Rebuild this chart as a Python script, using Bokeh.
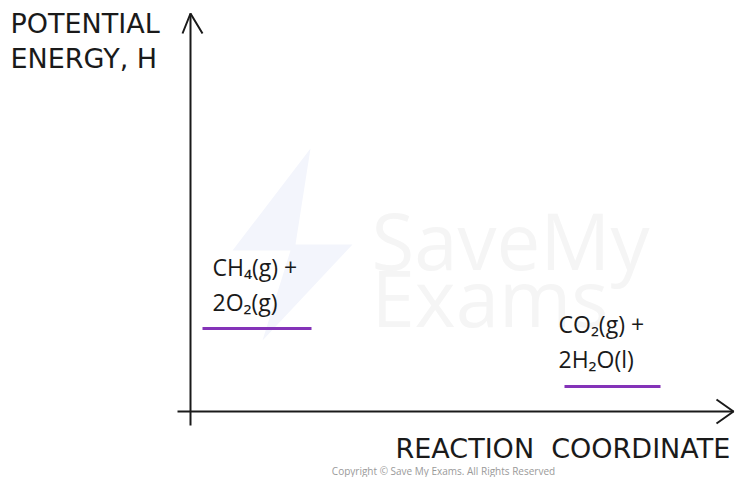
from bokeh.plotting import figure
from bokeh.models import Range1d
from bokeh.core.properties import value
from bokeh.embed import file_html
from bokeh.resources import INLINE

# ---- data (reaction coordinate / potential energy, arbitrary units) ----
species_line1 = ["CH₄(g) +", "CO₂(g) +"]
species_line2 = ["2O₂(g)", "2H₂O(l)"]
level_energy = [83, 25]          # enthalpy levels
level_start = [12, 374]          # reaction coordinate start of each level
level_end = [121, 470]           # reaction coordinate end of each level
y_label = ["POTENTIAL", "ENERGY, H"]
x_label = "REACTION\u00a0\u00a0COORDINATE"
copyright_text = "Copyright © Save My Exams. All Rights Reserved"
watermark = ["SaveMy", "Exams"]

LBL = value("DejaVu Sans")
FONT = value("Open Sans")
INK = "#1a1a1a"
PURPLE = "#8433b8"

p = figure(width=735, height=477, output_backend="svg", toolbar_location=None,
           x_range=Range1d(-190, 545), y_range=Range1d(-66, 411),
           min_border=0)
p.axis.visible = False
p.grid.visible = False
p.outline_line_color = None
p.background_fill_color = "white"

# watermark (faint logo + text)
p.patch(x=[120, 42, 100, 72, 162, 105], y=[263, 161, 161, 71, 167, 167],
        fill_color="#f3f5fc", line_color=None)
p.text(x=[181, 181], y=[172, 115], text=watermark, text_font=FONT,
       text_font_size="78px", text_color="#f5f5f5",
       text_baseline="alphabetic")

# axes (hand-drawn style)
p.segment(x0=[0], y0=[-14], x1=[0], y1=[398], line_color=INK, line_width=2)
p.segment(x0=[-13], y0=[0], x1=[543], y1=[0], line_color=INK, line_width=2)
# arrow heads
p.line(x=[-8, 0, 12], y=[378, 398, 378], line_color=INK, line_width=2)
p.line(x=[526, 543, 526], y=[12, 0, -12], line_color=INK, line_width=2)

# axis labels
p.text(x=[-180, -180], y=[388, 353], text=y_label, text_font=LBL,
       text_font_size="27px", text_color=INK, text_baseline="alphabetic")
p.text(x=[205], y=[-37], text=[x_label], text_font=LBL,
       text_font_size="27px", text_color=INK, text_align="left",
       text_baseline="alphabetic")

# energy levels
p.segment(x0=level_start, y0=level_energy, x1=level_end, y1=level_energy,
          line_color=PURPLE, line_width=3)
lab_x = [22, 368]
p.text(x=lab_x, y=[145, 88], text=species_line1,
       text_font=FONT, text_font_size="23px", text_color=INK,
       text_baseline="alphabetic")
p.text(x=lab_x, y=[110, 53], text=species_line2, text_font=FONT,
       text_font_size="23px", text_color=INK, text_baseline="alphabetic")

# copyright
p.text(x=[253], y=[-59], text=[copyright_text], text_font=FONT,
       text_font_size="10px", text_color="#9a9a9a", text_align="center",
       text_baseline="alphabetic")

open("out.html", "w").write(file_html(p, INLINE))
